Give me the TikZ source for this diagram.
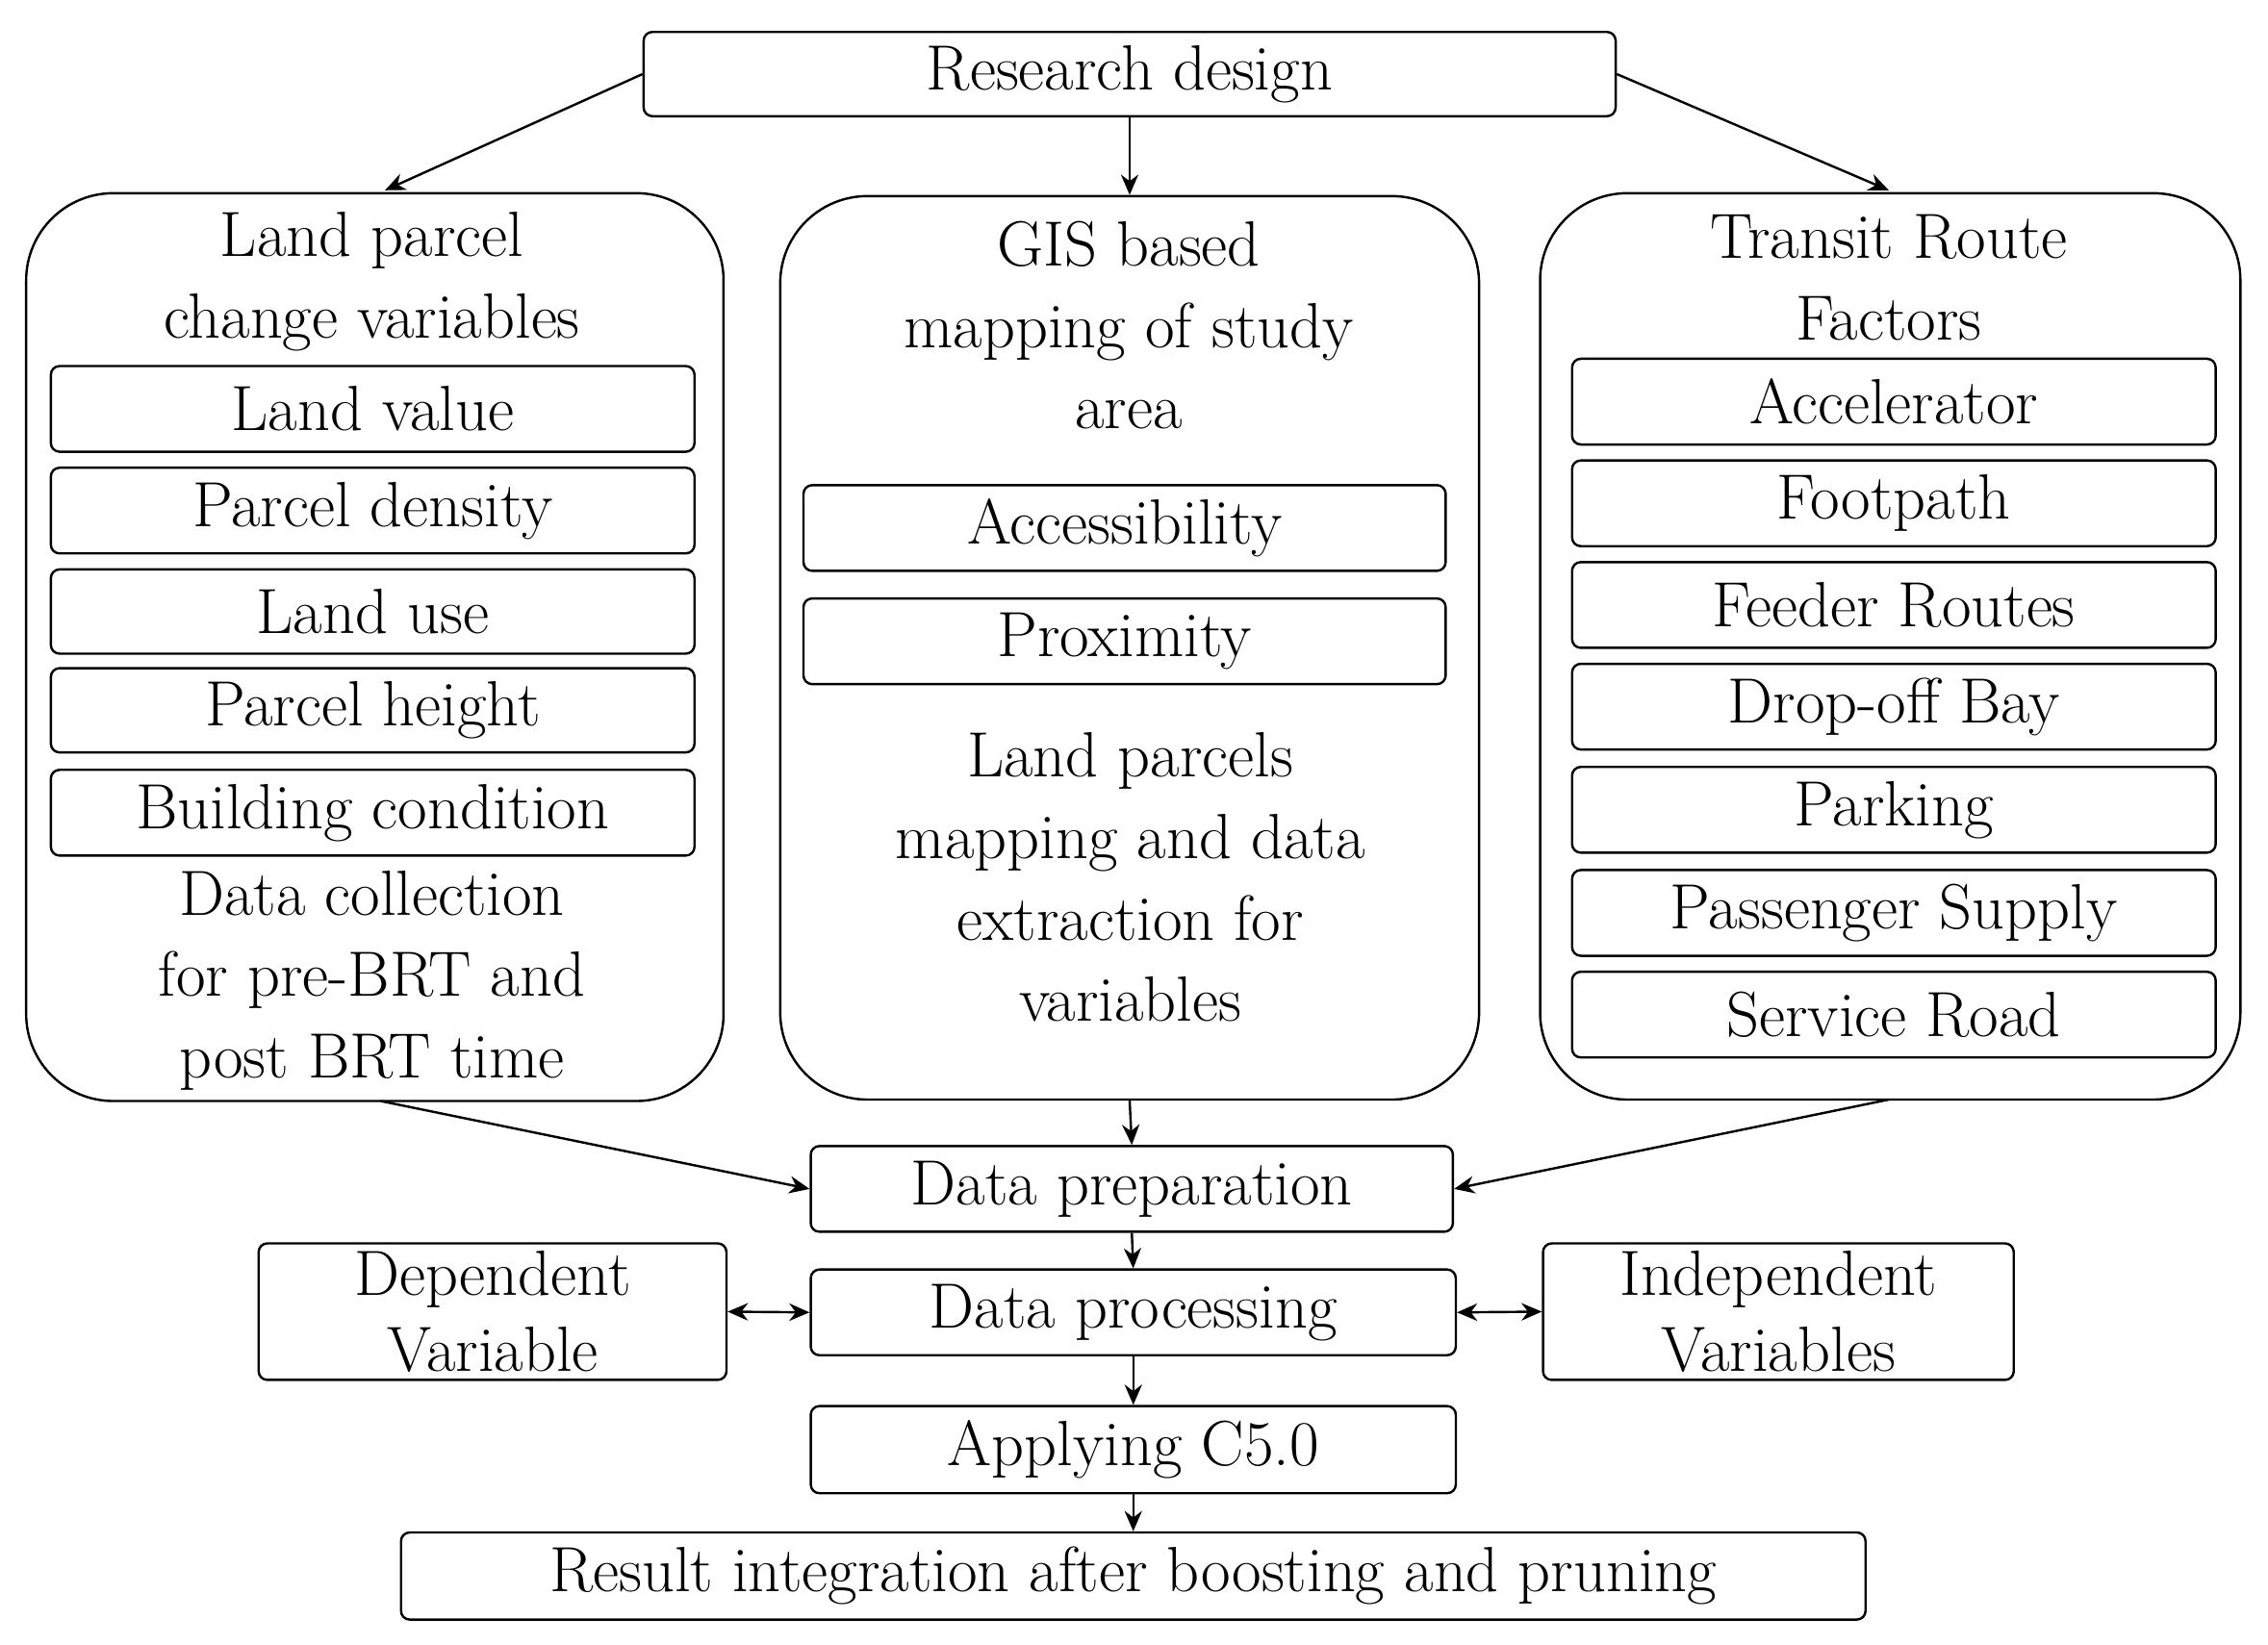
\documentclass[tikz,border=0pt]{standalone}
\usetikzlibrary{arrows.meta}
\begin{document}
\begin{tikzpicture}[x=1pt,y=-1pt,
  fnt/.style={font=\fontsize{44}{56}\selectfont},
  bx/.style={draw,rounded corners=6pt,line width=1.6pt,fnt,inner sep=0pt},
  tx/.style={fnt,align=center,inner sep=0pt},
  arr/.style={line width=1.6pt,-{Stealth[length=14pt,width=12pt]}},
  darr/.style={line width=1.6pt,{Stealth[length=14pt,width=12pt]}-{Stealth[length=14pt,width=12pt]}}]
\useasboundingbox (0,0) rectangle (1561,1132);
\newcommand\bxat[5]{\node[bx,minimum width=#3-#2,minimum height=#5-#4] (#1) at ({(#2+#3)/2},{(#4+#5)/2})}
% top
\bxat{rd}{443}{1112}{22}{80} {Research design};
% big boxes
\node[draw,rounded corners=60pt,line width=1.6pt,minimum width=480,minimum height=625,inner sep=0pt] (left) at (258,445.5) {};
\node[draw,rounded corners=60pt,line width=1.6pt,minimum width=481,minimum height=622,inner sep=0pt] (mid) at (777.5,446) {};
\node[draw,rounded corners=60pt,line width=1.6pt,minimum width=482,minimum height=624,inner sep=0pt] (right) at (1301,445) {};
% left contents
\node[tx] (lt) at (256,194) {Land parcel\\change variables};
\bxat{l1}{35}{478}{252}{311} {Land value};
\bxat{l2}{35}{478}{322}{381} {Parcel density};
\bxat{l3}{35}{478}{392}{450} {Land use};
\bxat{l4}{35}{478}{460}{518} {Parcel height};
\bxat{l5}{35}{478}{530}{589} {Building condition};
\node[tx] (lb) at (256,675) {Data collection\\for pre-BRT and\\post BRT time};
% middle contents
\node[tx] (mt) at (777,224) {GIS based\\mapping of study\\area};
\bxat{m1}{553}{995}{334}{393} {Accessibility};
\bxat{m2}{553}{995}{412}{471} {Proximity};
\node[tx] (mb) at (778,604) {Land parcels\\mapping and data\\extraction for\\variables};
% right contents
\node[tx] (rt) at (1300,191) {Transit Route\\Factors};
\bxat{r1}{1082}{1525}{247}{306} {Accelerator};
\bxat{r2}{1082}{1525}{317}{376} {Footpath};
\bxat{r3}{1082}{1525}{387}{446} {Feeder Routes};
\bxat{r4}{1082}{1525}{457}{516} {Drop-off Bay};
\bxat{r5}{1082}{1525}{528}{587} {Parking};
\bxat{r6}{1082}{1525}{599}{658} {Passenger Supply};
\bxat{r7}{1082}{1525}{669}{728} {Service Road};
% lower
\bxat{prep}{558}{1000}{789}{848} {Data preparation};
\bxat{proc}{558}{1002}{874}{933} {Data processing};
\bxat{c50}{558}{1002}{968}{1028} {Applying C5.0};
\bxat{res}{276}{1284}{1055}{1115} {Result integration after boosting and pruning};
\node[bx,minimum width=322,minimum height=94,align=center,font=\fontsize{44}{52}\selectfont] (dep) at (339,903) {Dependent\\Variable};
\node[bx,minimum width=324,minimum height=94,align=center,font=\fontsize{44}{52}\selectfont] (ind) at (1224,903) {Independent\\Variables};
% arrows
\draw[arr] (rd.west) -- (265,131);
\draw[arr] (rd.south) -- (mid.north);
\draw[arr] (rd.east) -- (1300,131);
\draw[arr] (262,758) -- (prep.west);
\draw[arr] (mid.south) -- (prep.north);
\draw[arr] (1300,757) -- (prep.east);
\draw[arr] (prep.south) -- (proc.north);
\draw[arr] (proc.south) -- (c50.north);
\draw[arr] (c50.south) -- (res.north-|c50.south);
\draw[darr] (dep.east) -- (proc.west);
\draw[darr] (proc.east) -- (ind.west);
\end{tikzpicture}
\end{document}
